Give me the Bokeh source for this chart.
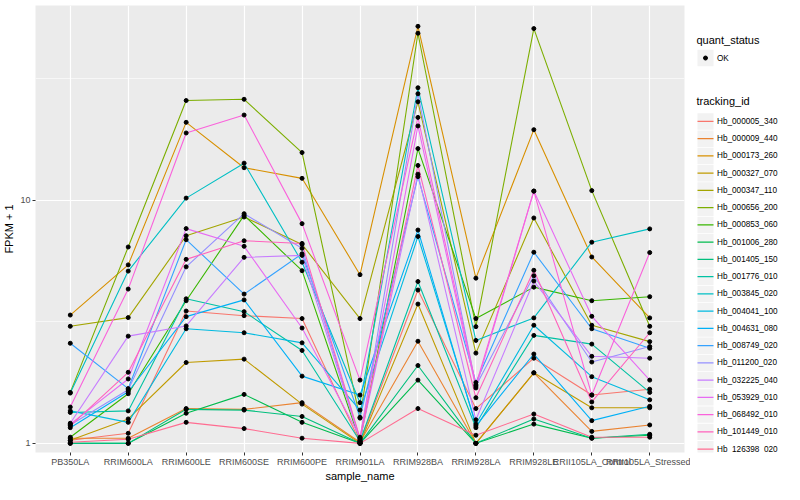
from bokeh.plotting import figure
from bokeh.models import FixedTicker, PrintfTickFormatter, Range1d
from bokeh.layouts import row
from bokeh.embed import file_html
from bokeh.resources import INLINE
from bokeh.core.properties import value

samples = ["PB350LA", "RRIM600LA", "RRIM600LE", "RRIM600SE", "RRIM600PE",
           "RRIM901LA", "RRIM928BA", "RRIM928LA", "RRIM928LE",
           "RRII105LA_Control", "RRII105LA_Stressed"]

tracking_ids = ["Hb_000005_340", "Hb_000009_440", "Hb_000173_260", "Hb_000327_070",
                "Hb_000347_110", "Hb_000656_200", "Hb_000853_060", "Hb_001006_280",
                "Hb_001405_150", "Hb_001776_010", "Hb_003845_020", "Hb_004041_100",
                "Hb_004631_080", "Hb_008749_020", "Hb_011200_020", "Hb_032225_040",
                "Hb_053929_010", "Hb_068492_010", "Hb_101449_010", "Hb_126398_020"]

colors = ["#F8766D", "#EA8331", "#D89000", "#C09B00", "#A3A500", "#7CAE00", "#39B600",
          "#00BB4E", "#00BF7D", "#00C1A3", "#00BFC4", "#00BAE0", "#00B0F6", "#35A2FF",
          "#9590FF", "#C77CFF", "#E76BF3", "#FA62DB", "#FF62BC", "#FF6C91"]

# FPKM + 1 per sample (order of `samples`)
hb_000005_340 = [1.03, 1.10, 3.50, 3.35, 3.26, 1.01, 4.27, 1.39, 2.24, 1.58, 1.67]
hb_000009_440 = [1.05, 1.05, 1.39, 1.38, 1.47, 1.01, 2.63, 1.00, 1.95, 1.12, 1.19]
hb_000173_260 = [3.37, 5.42, 20.9, 13.6, 12.3, 4.94, 51.9, 4.78, 19.5, 5.84, 3.28]
hb_000327_070 = [1.03, 1.26, 2.15, 2.22, 1.45, 1.00, 3.74, 1.00, 1.95, 1.40, 1.40]
hb_000347_110 = [3.03, 3.29, 7.14, 8.53, 6.58, 3.26, 25.4, 2.35, 8.45, 3.06, 2.62]
hb_000656_200 = [1.62, 6.42, 25.7, 26.0, 15.7, 1.27, 48.6, 3.02, 50.8, 10.95, 3.03]
hb_000853_060 = [1.06, 1.60, 3.86, 8.66, 5.13, 1.02, 16.3, 3.26, 4.39, 3.86, 4.01]
hb_001006_280 = [1.00, 1.00, 1.33, 1.59, 1.22, 1.00, 1.82, 1.00, 1.20, 1.05, 1.08]
hb_001405_150 = [1.00, 1.00, 1.38, 1.37, 1.29, 1.00, 2.09, 1.00, 1.26, 1.05, 1.09]
hb_001776_010 = [1.34, 1.36, 3.93, 3.48, 2.41, 1.02, 4.63, 1.16, 2.78, 2.56, 1.62]
hb_003845_020 = [1.61, 5.11, 10.2, 14.2, 5.56, 1.47, 29.0, 2.65, 3.28, 6.72, 7.62]
hb_004041_100 = [1.36, 1.22, 2.96, 2.85, 2.59, 1.37, 7.09, 1.20, 3.06, 1.88, 1.51]
hb_004631_080 = [1.16, 1.63, 3.32, 3.89, 1.89, 1.58, 7.54, 1.18, 2.33, 1.24, 1.42]
hb_008749_020 = [2.58, 1.68, 6.88, 4.11, 6.02, 1.28, 12.5, 1.78, 6.11, 2.96, 2.46]
hb_011200_020 = [1.19, 1.66, 5.32, 8.80, 6.34, 1.04, 27.4, 1.72, 4.89, 2.16, 2.50]
hb_032225_040 = [1.21, 2.76, 3.04, 5.82, 5.93, 1.03, 12.8, 1.25, 4.65, 2.28, 2.24]
hb_053929_010 = [1.20, 1.84, 7.64, 6.46, 2.98, 1.06, 20.2, 1.69, 10.9, 3.33, 1.82]
hb_068492_010 = [1.41, 4.31, 18.9, 22.4, 8.01, 1.82, 21.9, 1.74, 10.9, 1.58, 6.09]
hb_101449_010 = [1.18, 1.96, 5.71, 6.81, 6.64, 1.05, 13.9, 1.54, 5.15, 1.48, 2.85]
hb_126398_020 = [1.01, 1.04, 1.22, 1.15, 1.05, 1.00, 1.39, 1.08, 1.32, 1.06, 1.06]

series = [hb_000005_340, hb_000009_440, hb_000173_260, hb_000327_070, hb_000347_110,
          hb_000656_200, hb_000853_060, hb_001006_280, hb_001405_150, hb_001776_010,
          hb_003845_020, hb_004041_100, hb_004631_080, hb_008749_020, hb_011200_020,
          hb_032225_040, hb_053929_010, hb_068492_010, hb_101449_010, hb_126398_020]

quant_status = ["OK"]

# y axis (log) limits and ticks
y_limits = (0.917, 63.2)
y_ticks = [1, 10]
y_minor = [10 ** 0.5, 10 ** 1.5]

FONT = "Liberation Sans"
PANEL = "#EBEBEB"
FIG_H = 484
TOP = 5
BOTTOM = 28

xs = list(range(1, len(samples) + 1))

p = figure(width=690, height=FIG_H, title=None,
           x_range=Range1d(0.4, len(samples) + 0.6),
           y_range=Range1d(*y_limits),
           y_axis_type="log",
           output_backend="svg", toolbar_location=None,
           min_border_left=35, min_border_right=6,
           min_border_top=TOP, min_border_bottom=BOTTOM)
p.background_fill_color = PANEL
p.border_fill_color = "white"
p.outline_line_color = None

xt = FixedTicker(ticks=xs)
yt = FixedTicker(ticks=y_ticks, minor_ticks=y_minor)
p.xaxis.ticker = xt
p.xgrid.ticker = xt
p.yaxis.ticker = yt
p.ygrid.ticker = yt
p.xaxis.major_label_overrides = {i: s for i, s in zip(xs, samples)}
p.yaxis.formatter = PrintfTickFormatter(format="%d")

for g in (p.xgrid, p.ygrid):
    g.grid_line_color = "white"
    g.grid_line_width = 1.2
p.ygrid.minor_grid_line_color = "white"
p.ygrid.minor_grid_line_width = 0.6

for ax in (p.xaxis, p.yaxis):
    ax.axis_line_color = None
    ax.major_tick_line_color = "#333333"
    ax.major_tick_out = 3
    ax.major_tick_in = 0
    ax.minor_tick_line_color = None
    ax.major_label_text_font = FONT
    ax.major_label_text_font_size = "9px"
    ax.major_label_text_color = "#4D4D4D"
    ax.major_label_standoff = 1
    ax.axis_label_text_font = FONT
    ax.axis_label_text_font_size = "11px"
    ax.axis_label_text_font_style = "normal"
    ax.axis_label_text_color = "black"
p.xaxis.axis_label_standoff = 0
p.yaxis.axis_label_standoff = 2
p.xaxis.axis_label = "sample_name"
p.yaxis.axis_label = "FPKM + 1"

for vals, c in zip(series, colors):
    p.line(x=xs, y=vals, line_color=c, line_width=1.1)
for vals in series:
    p.scatter(x=xs, y=vals, marker="circle", size=4, color="black")

# legend panel, laid out in image pixel coordinates
lg = figure(width=94, height=FIG_H, title=None, x_range=Range1d(690, 784),
            y_range=Range1d(FIG_H - BOTTOM, TOP),
            output_backend="svg", toolbar_location=None,
            x_axis_location=None, y_axis_location=None,
            min_border_left=0, min_border_right=0,
            min_border_top=TOP, min_border_bottom=BOTTOM)
lg.grid.visible = False
lg.outline_line_color = None
lg.background_fill_color = "white"
lg.border_fill_color = "white"

title_x = 696
key_x = 705
text_x = 716.5
lg.text(x=[title_x], y=[40], text=["quant_status"], text_font=value(FONT),
        text_font_size="11px", text_baseline="middle", text_color="black")
lg.rect(x=[key_x], y=[58], width=16, height=16.6, fill_color="#F2F2F2", line_color=None)
lg.scatter(x=[key_x], y=[58], marker="circle", size=4, color="black")
lg.text(x=[text_x], y=[58], text=quant_status, text_font=value(FONT),
        text_font_size="8.2px", text_baseline="middle", text_color="black")

lg.text(x=[title_x], y=[101], text=["tracking_id"], text_font=value(FONT),
        text_font_size="11px", text_baseline="middle", text_color="black")
ys = [122 + i * 17.4 for i in range(len(tracking_ids))]
lg.rect(x=[key_x] * len(ys), y=ys, width=16, height=16.6, fill_color="#F2F2F2", line_color=None)
lg.segment(x0=[key_x - 8] * len(ys), y0=ys, x1=[key_x + 8] * len(ys), y1=ys,
           line_color=colors, line_width=1.3)
lg.text(x=[text_x] * len(ys), y=ys, text=tracking_ids, text_font=value(FONT),
        text_font_size="8.2px", text_baseline="middle", text_color="black")

layout = row(p, lg)
open("out.html", "w").write(file_html(layout, INLINE))
